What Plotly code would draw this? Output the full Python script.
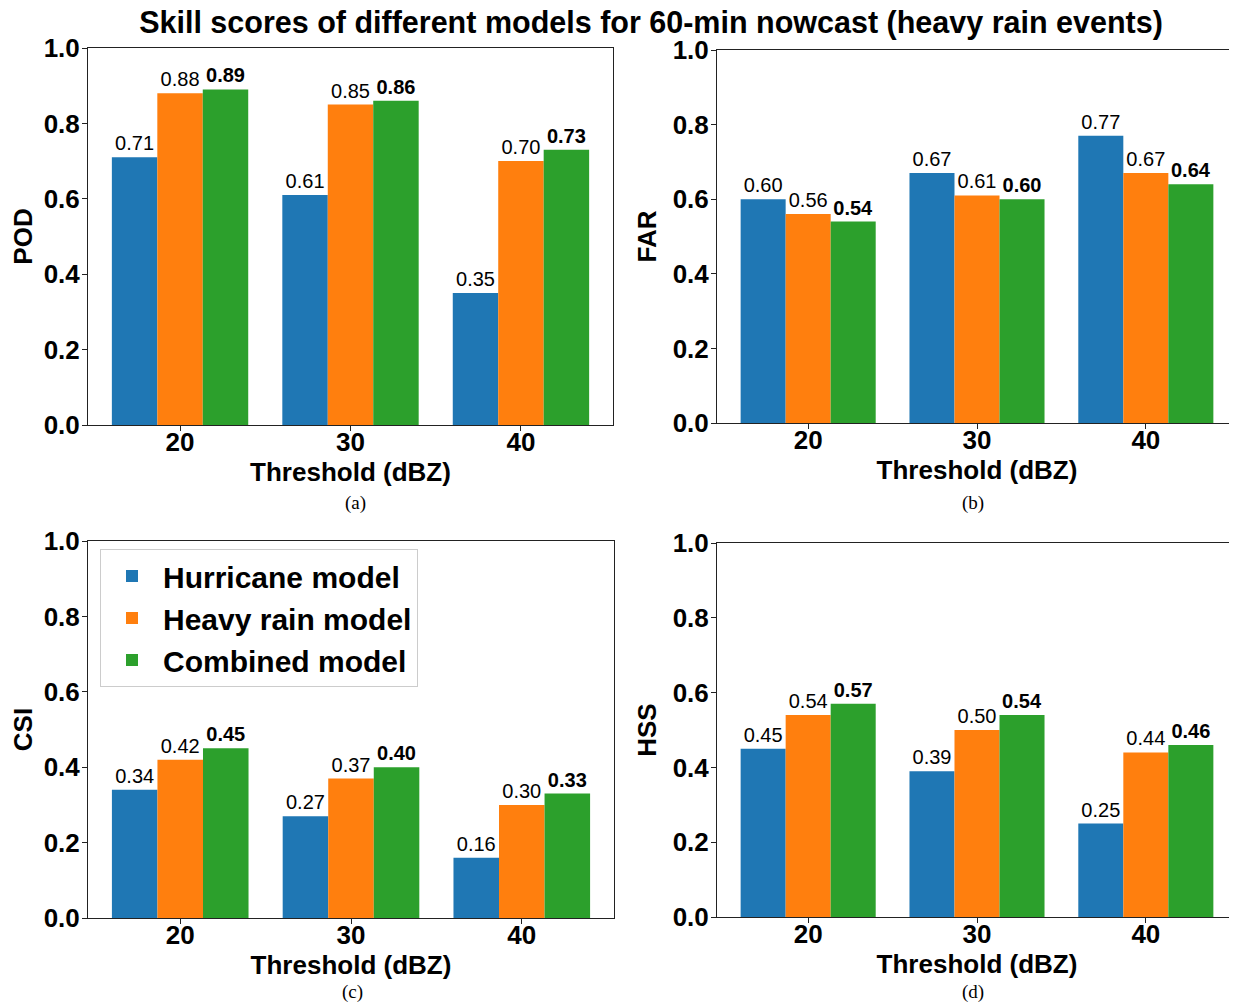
import plotly.graph_objects as go

thresholds = ["20", "30", "40"]
models = ["Hurricane model", "Heavy rain model", "Combined model"]
colors = ["#1f77b4", "#ff7f0e", "#2ca02c"]

pod_hurricane = [0.71, 0.61, 0.35]
pod_heavy = [0.88, 0.85, 0.70]
pod_combined = [0.89, 0.86, 0.73]

far_hurricane = [0.60, 0.67, 0.77]
far_heavy = [0.56, 0.61, 0.67]
far_combined = [0.54, 0.60, 0.64]

csi_hurricane = [0.34, 0.27, 0.16]
csi_heavy = [0.42, 0.37, 0.30]
csi_combined = [0.45, 0.40, 0.33]

hss_hurricane = [0.45, 0.39, 0.25]
hss_heavy = [0.54, 0.50, 0.44]
hss_combined = [0.57, 0.54, 0.46]

y_ticks = [0.0, 0.2, 0.4, 0.6, 0.8, 1.0]
panel_names = ["POD", "FAR", "CSI", "HSS"]
panel_tags = ["(a)", "(b)", "(c)", "(d)"]
panel_data = [
    [pod_hurricane, pod_heavy, pod_combined],
    [far_hurricane, far_heavy, far_combined],
    [csi_hurricane, csi_heavy, csi_combined],
    [hss_hurricane, hss_heavy, hss_combined],
]

W, H = 1237, 1004
OFF = 8  # page body margin


def px(x):
    return (x - OFF) / W


def py(y):
    return 1 - (y - OFF) / H


# pixel boxes in the screenshot (left, right, top, bottom)
boxes = [
    (88, 613, 48, 425),
    (717, 1237, 50, 423),
    (88, 614, 541, 918),
    (717, 1237, 543, 917),
]
tag_pos = [(355, 503), (973, 503), (352, 992), (973, 992)]

FONT = "Liberation Sans, Arial, sans-serif"
fig = go.Figure()
xs = list(range(len(thresholds)))

for p in range(4):
    ax = "" if p == 0 else str(p + 1)
    for m in range(3):
        vals = panel_data[p][m]
        if m == 2:
            txt = ["<b>%.2f</b>" % v for v in vals]
        else:
            txt = ["%.2f" % v for v in vals]
        fig.add_trace(go.Bar(
            x=xs, y=vals, name=models[m], marker_color=colors[m],
            marker_line_width=0, text=txt, textposition="outside",
            textfont=dict(size=20, color="black", family=FONT),
            constraintext="none", cliponaxis=False,
            xaxis="x" + ax, yaxis="y" + ax,
            offsetgroup=str(m), showlegend=(p == 2),
            legendgroup=models[m],
        ))
    l, r, t, b = boxes[p]
    fig.layout["xaxis" + ax] = dict(
        domain=[px(l), min(px(r), 1.0)], anchor="y" + ax, automargin=False,
        range=[-0.54, 2.54], tickvals=xs, ticktext=thresholds,
        showline=True, mirror=True, linecolor="#222", linewidth=1,
        ticks="outside", ticklen=5, tickcolor="#222", ticklabelstandoff=-11,
        tickfont=dict(size=26, family=FONT, weight="bold", color="black"),
        title=dict(text="<b>Threshold (dBZ)</b>", standoff=2,
                   font=dict(size=26, family=FONT, color="black")),
        showgrid=False, zeroline=False, fixedrange=True,
    )
    fig.layout["yaxis" + ax] = dict(
        domain=[py(b), py(t)], anchor="x" + ax, automargin=False,
        range=[0, 1.0], tickvals=y_ticks,
        ticktext=["%.1f" % v for v in y_ticks],
        showline=True, mirror=True, linecolor="#222", linewidth=1,
        ticks="outside", ticklen=5, tickcolor="#222", ticklabelstandoff=-3,
        tickfont=dict(size=26, family=FONT, weight="bold", color="black"),
        title=dict(text="<b>%s</b>" % panel_names[p], standoff=8,
                   font=dict(size=26, family=FONT, color="black")),
        showgrid=False, zeroline=False, fixedrange=True,
    )
    fig.add_annotation(
        text=panel_tags[p], x=px(tag_pos[p][0]), y=py(tag_pos[p][1]),
        xref="paper", yref="paper", showarrow=False,
        font=dict(size=19, family="Liberation Serif, Times New Roman, serif", color="black"),
        xanchor="center", yanchor="middle",
    )

fig.update_layout(
    width=W, height=H,
    margin=dict(l=0, r=0, t=0, b=0, autoexpand=False),
    paper_bgcolor="white", plot_bgcolor="white",
    barmode="group", bargap=0.2, bargroupgap=0,
    title=dict(text="<b>Skill scores of different models for 60-min nowcast (heavy rain events)</b>",
               x=px(651), xanchor="center", y=py(22), yanchor="middle",
               font=dict(size=30.5, family=FONT, color="black")),
    legend=dict(
        x=px(100), y=py(549), xanchor="left", yanchor="top",
        bgcolor="white", bordercolor="#cccccc", borderwidth=1,
        font=dict(size=30, family=FONT, weight="bold", color="black"),
        tracegroupgap=0, itemwidth=52,
    ),
    font=dict(family=FONT),
)

fig.write_html("out.html")
